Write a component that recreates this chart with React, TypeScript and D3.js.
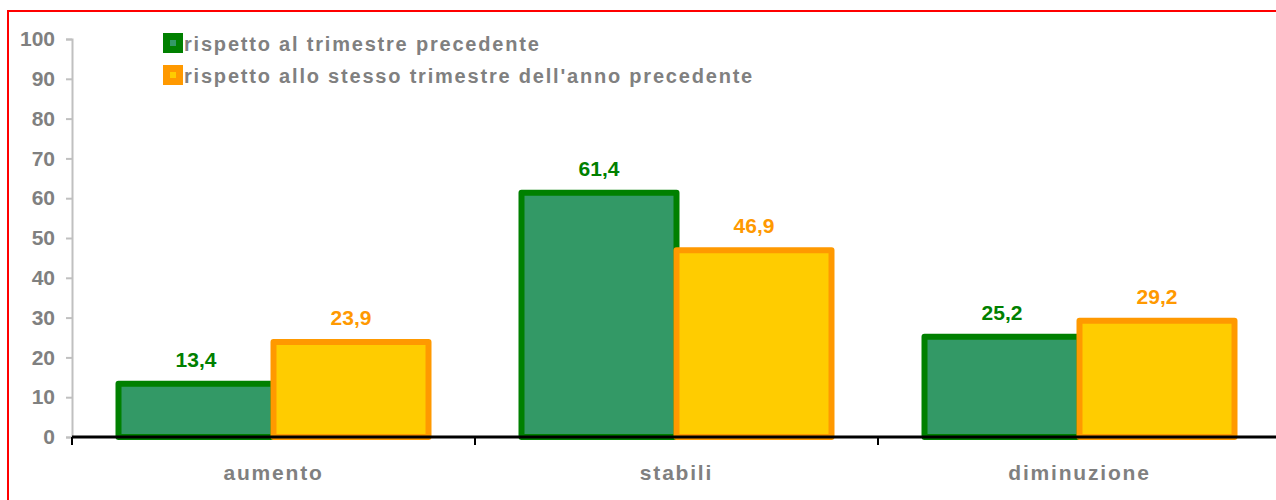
import React, { useEffect, useRef } from 'react';
import * as d3 from 'd3';

const categories = ['aumento', 'stabili', 'diminuzione'];
const seriesNames = ['rispetto al trimestre precedente', "rispetto allo stesso trimestre dell'anno precedente"];
const prevQuarter = [13.4, 61.4, 25.2];
const prevYear = [23.9, 46.9, 29.2];
const yTicks = [0, 10, 20, 30, 40, 50, 60, 70, 80, 90, 100];

const seriesStyle = [
  { fill: '#339966', stroke: '#008000', label: '#008000' },
  { fill: '#FFCC00', stroke: '#FF9900', label: '#FF9900' },
];

const App: React.FC = () => {
  const svgRef = useRef<SVGSVGElement>(null);

  useEffect(() => {
    if (!svgRef.current) return;
    const svg = d3.select(svgRef.current);
    svg.selectAll('*').remove();

    const width = 1276;
    const height = 500;
    const font = '"Liberation Sans", Arial, sans-serif';
    const grey = '#808080';

    // outer red frame
    svg.append('rect')
      .attr('x', 8).attr('y', 11)
      .attr('width', width + 20).attr('height', height + 20)
      .attr('fill', 'none').attr('stroke', '#ff0000').attr('stroke-width', 2);

    const x0 = d3.scaleBand<string>().domain(categories).range([72, 1281]).padding(0);
    const x1 = d3.scaleBand<string>().domain(['0', '1']).range([0, x0.bandwidth()]).paddingInner(0).paddingOuter(0.3);
    const y = d3.scaleLinear().domain([0, 100]).range([437, 39]);

    // y axis
    const yAxis = svg.append('g').attr('transform', 'translate(72,0)')
      .call(d3.axisLeft(y).tickValues(yTicks).tickSize(6).tickPadding(11).tickFormat(d3.format('d')));
    yAxis.select('.domain').attr('stroke', '#c0c0c0').attr('stroke-width', 2);
    yAxis.selectAll('.tick line').attr('stroke', '#c0c0c0').attr('stroke-width', 2);
    yAxis.selectAll('.tick text')
      .attr('fill', grey).attr('font-family', font).attr('font-weight', 'bold').attr('font-size', 21);

    // bars
    const series = [prevQuarter, prevYear];
    series.forEach((vals, si) => {
      const st = seriesStyle[si];
      svg.append('g').selectAll('rect')
        .data(vals)
        .enter()
        .append('rect')
        .attr('x', (_, i) => (x0(categories[i]) || 0) + (x1(String(si)) || 0))
        .attr('y', d => y(d))
        .attr('width', x1.bandwidth())
        .attr('height', d => y(0) - y(d))
        .attr('fill', st.fill)
        .attr('stroke', st.stroke)
        .attr('stroke-width', 6)
        .attr('stroke-linejoin', 'round');
    });

    // value labels
    series.forEach((vals, si) => {
      const st = seriesStyle[si];
      svg.append('g').selectAll('text')
        .data(vals)
        .enter()
        .append('text')
        .attr('x', (_, i) => (x0(categories[i]) || 0) + (x1(String(si)) || 0) + x1.bandwidth() / 2)
        .attr('y', d => y(d) - 17)
        .attr('text-anchor', 'middle')
        .attr('fill', st.label)
        .attr('font-family', font)
        .attr('font-weight', 'bold')
        .attr('font-size', 21)
        .text(d => d3.format('.1f')(d).replace('.', ','));
    });

    // x axis
    const xAxis = svg.append('g').attr('transform', `translate(0,${y(0)})`)
      .call(d3.axisBottom(x0).tickSize(0).tickPadding(28));
    xAxis.select('.domain').attr('stroke', '#000').attr('stroke-width', 3).attr('d', `M72,0H${width + 10}`);
    xAxis.selectAll('.tick text')
      .attr('fill', grey).attr('font-family', font).attr('font-weight', 'bold')
      .attr('font-size', 21).attr('letter-spacing', 1.8);
    svg.append('g').selectAll('line')
      .data(categories.concat(['end']))
      .enter()
      .append('line')
      .attr('x1', (d, i) => i < categories.length ? (x0(d) || 0) : x0.range()[1])
      .attr('x2', (d, i) => i < categories.length ? (x0(d) || 0) : x0.range()[1])
      .attr('y1', y(0)).attr('y2', y(0) + 8)
      .attr('stroke', '#000').attr('stroke-width', 2);

    // legend
    const legend = svg.append('g').attr('transform', 'translate(163,33)');
    seriesNames.forEach((name, i) => {
      const st = seriesStyle[i];
      const g = legend.append('g').attr('transform', `translate(0,${i * 32})`);
      g.append('rect')
        .attr('x', 3.5).attr('y', 3.5).attr('width', 13).attr('height', 13)
        .attr('fill', st.fill).attr('stroke', st.stroke).attr('stroke-width', 7);
      g.append('text')
        .attr('x', 21).attr('y', 18)
        .attr('fill', grey).attr('font-family', font).attr('font-weight', 'bold')
        .attr('font-size', 20).attr('letter-spacing', 1.8)
        .text(name);
    });
  }, []);

  return (
    <svg
      ref={svgRef}
      width={1276}
      height={500}
      style={{ position: 'absolute', left: 0, top: 0, background: '#fff' }}
    />
  );
};

export default App;
